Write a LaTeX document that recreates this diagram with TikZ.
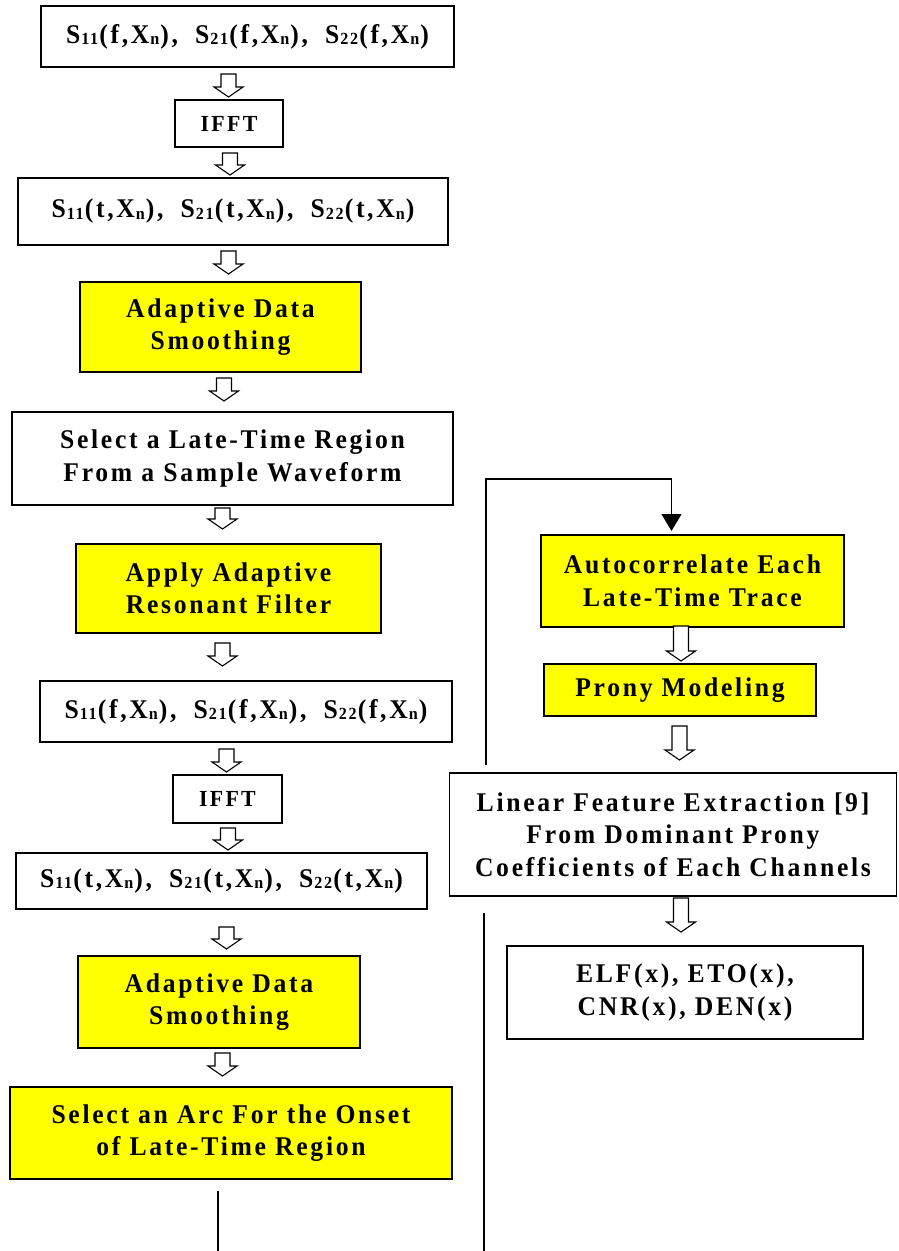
\documentclass[tikz,border=0pt]{standalone}
\usepackage{fontspec}
\setmainfont{Liberation Serif}[FakeStretch=0.95,LetterSpace=10]
\usetikzlibrary{arrows.meta}
\newcommand\sub[1]{\raisebox{-1.2pt}{\fontsize{17}{17}\selectfont #1}}
\newcommand\Sp[2]{S\kern1pt\sub{#1}\kern1pt(#2,X\kern1pt\sub{n}\kern1pt)}
\newcommand\gap{,\hspace{8pt} }
\newcommand\barrow[3]{%
  \draw[hollowarrow] ({#1-7.5},#2) -- ({#1+7.5},#2) -- ({#1+7.5},{#3-10}) -- ({#1+14.5},{#3-10}) -- (#1,#3) -- ({#1-14.5},{#3-10}) -- ({#1-7.5},{#3-10}) -- cycle;}
\definecolor{boxyellow}{RGB}{255,255,0}
\tikzset{
  box/.style={draw, line width=1.3pt, inner sep=0pt, align=center,
    font=\bfseries\fontsize{27}{32.5}\selectfont},
  ybox/.style={box, fill=boxyellow},
  smallbox/.style={box, font=\bfseries\fontsize{23}{28}\selectfont},
  hollowarrow/.style={draw, fill=white, line width=1.1pt, line join=miter},
  link/.style={draw, line width=1.3pt}
}
\begin{document}
\begin{tikzpicture}[x=1pt,y=-1pt]
\useasboundingbox (0,0) rectangle (898,1251);
% left column
\node[box, minimum width=413pt, minimum height=61pt] (s1) at (247.5,36.5)
  {\Sp{11}{f}\gap\Sp{21}{f}\gap\Sp{22}{f}};
\node[smallbox, minimum width=108pt, minimum height=47pt] (ifft1) at (229,123.5) {IFFT};
\node[box, minimum width=430pt, minimum height=67pt] (s2) at (233,211.5)
  {\Sp{11}{t}\gap\Sp{21}{t}\gap\Sp{22}{t}};
\node[ybox, minimum width=281pt, minimum height=90pt] (ads1) at (220.5,327)
  {Adaptive Data\\Smoothing};
\node[box, minimum width=441pt, minimum height=93pt] (sel) at (232.5,458.5)
  {Select a Late-Time Region\\From a Sample Waveform};
\node[ybox, minimum width=305pt, minimum height=89pt] (arf) at (228.5,588.5)
  {Apply Adaptive\\Resonant Filter};
\node[box, minimum width=412pt, minimum height=61pt] (s3) at (246,711.5)
  {\Sp{11}{f}\gap\Sp{21}{f}\gap\Sp{22}{f}};
\node[smallbox, minimum width=109pt, minimum height=48pt] (ifft2) at (227.5,799) {IFFT};
\node[box, minimum width=411pt, minimum height=56pt] (s4) at (221.5,881)
  {\Sp{11}{t}\gap\Sp{21}{t}\gap\Sp{22}{t}};
\node[ybox, minimum width=282pt, minimum height=92pt] (ads2) at (219,1002)
  {Adaptive Data\\Smoothing};
\node[ybox, minimum width=442pt, minimum height=92pt] (arc) at (231,1133)
  {Select an Arc For the Onset\\of Late-Time Region};
% right column
\node[ybox, minimum width=303pt, minimum height=92pt] (auto) at (692.5,581)
  {Autocorrelate Each\\Late-Time Trace};
\node[ybox, minimum width=272pt, minimum height=52pt] (prony) at (680,690)
  {Prony Modeling};
\node[box, minimum width=447pt, minimum height=123pt] (lin) at (673,834.5)
  {Linear Feature Extraction [9]\\From Dominant Prony\\Coefficients of Each Channels};
\node[box, minimum width=356pt, minimum height=93pt] (elf) at (685,992.5)
  {ELF(x), ETO(x),\\CNR(x), DEN(x)};
% block arrows
\barrow{228.5}{74}{97}
\barrow{230}{153}{175}
\barrow{228.5}{251}{274}
\barrow{224}{378}{401}
\barrow{222.5}{508}{529}
\barrow{222.5}{643}{666}
\barrow{226.5}{749}{772}
\barrow{228}{828}{850}
\barrow{226.5}{927}{949}
\barrow{222.5}{1053}{1076}
\barrow{681}{626}{661}
\barrow{679.5}{726}{760}
\barrow{681}{898}{932}
% connector lines
\coordinate (u1) at (486,765);
\coordinate (u2) at (486,479);
\coordinate (u3) at (671.5,531);
\draw[link, -{Triangle[width=20pt,length=17pt]}] (u1) -- (u2) -| (u3);
\coordinate (l1) at (484,913);
\coordinate (l2) at (484,1251);
\draw[line width=2pt] (l1) -- (l2);
\coordinate (b1) at (218,1191);
\coordinate (b2) at (218,1251);
\draw[line width=1.2pt] (b1) -- (b2);
\end{tikzpicture}
\end{document}
